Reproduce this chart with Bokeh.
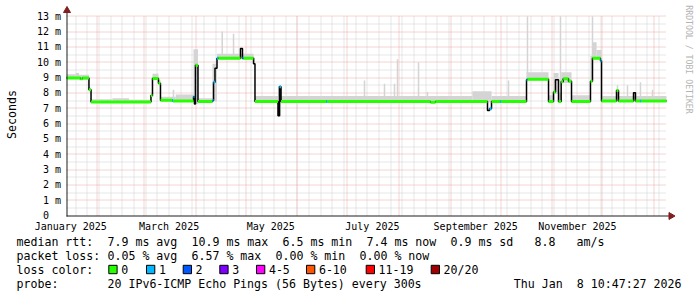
import math
import numpy as np
import pandas as pd
from bokeh.plotting import figure
from bokeh.models import Range1d, FixedTicker
from bokeh.layouts import column
from bokeh.embed import file_html
from bokeh.resources import INLINE
from bokeh.core.properties import value

# ---------------- data ----------------
t_start = "2025-01-13 10:47"
t_end = "2026-01-08 10:47"

# median rtt, as steps: start of each step, value (ms), loss count (-1 = no loss colour drawn)
med_start = ["2025-01-13 10:47", "2025-01-21 20:00", "2025-01-23 00:00", "2025-01-26 22:00",
             "2025-01-28 04:00", "2025-03-05 03:00", "2025-03-06 01:00", "2025-03-09 15:00",
             "2025-03-10 20:00", "2025-03-17 18:00", "2025-03-18 08:00", "2025-03-30 16:00",
             "2025-03-31 06:00", "2025-03-31 20:00", "2025-04-02 08:00", "2025-04-11 01:00",
             "2025-04-11 16:00", "2025-04-12 13:00", "2025-04-13 18:00", "2025-04-14 16:00",
             "2025-04-27 20:00", "2025-04-29 01:00", "2025-04-29 16:00", "2025-05-05 16:00",
             "2025-05-06 13:00", "2025-05-20 08:00", "2025-05-21 06:00", "2025-05-22 04:00",
             "2025-06-18 04:00", "2025-06-18 18:00", "2025-08-19 20:00", "2025-08-22 20:00",
             "2025-09-23 01:00", "2025-09-24 06:00", "2025-09-25 11:00", "2025-09-30 13:00",
             "2025-10-01 04:00", "2025-10-16 11:00", "2025-10-17 01:00", "2025-10-29 16:00",
             "2025-11-01 16:00", "2025-11-02 20:00", "2025-11-04 16:00", "2025-11-06 06:00",
             "2025-11-07 11:00", "2025-11-10 16:00", "2025-11-12 11:00", "2025-11-23 20:00",
             "2025-11-25 01:00", "2025-11-29 20:00", "2025-11-30 11:00", "2025-12-09 11:00",
             "2025-12-10 16:00", "2025-12-19 16:00", "2025-12-20 20:00", "2025-12-23 13:00",
             "2025-12-24 04:00"]
med_value = [8.97, 8.92, 8.97, 8.20,
             7.40, 7.82, 8.93, 8.62,
             7.52, 7.50, 7.47, 7.75,
             7.28, 9.80, 7.43, 7.50,
             8.70, 9.60, 10.26, 10.26,
             10.90, 10.26, 10.26, 9.90,
             7.43, 6.50, 8.40, 7.43,
             7.43, 7.43, 7.38, 7.43,
             6.85, 6.96, 7.43, 7.43,
             7.43, 8.85, 8.88, 7.43,
             8.05, 8.85, 7.43, 8.72,
             8.92, 8.76, 7.43, 8.75,
             10.26, 10.10, 7.47, 8.15,
             7.47, 8.00, 7.47, 7.47,
             7.47]
med_loss = [0, 0, 0, 0,
            0, 0, 0, 0,
            0, 1, 0, 1,
            -1, 0, 0, 1,
            1, -1, 1, 0,
            -1, 1, 0, -1,
            0, -1, 1, 0,
            1, 0, 0, 0,
            -1, 1, 0, 1,
            0, 1, 0, 0,
            0, -1, 0, 0,
            0, 0, 0, 0,
            0, 1, 0, 0,
            0, -1, 0, 1,
            0]

# smoke band (spread of the pings), as steps
smoke_start = ["2025-01-13 10:47", "2025-01-19 00:00", "2025-01-21 00:00", "2025-01-26 22:00",
               "2025-01-28 04:00", "2025-02-10 00:00", "2025-02-20 00:00", "2025-03-05 03:00",
               "2025-03-06 01:00", "2025-03-09 15:00", "2025-03-10 20:00", "2025-03-20 00:00",
               "2025-03-30 16:00", "2025-04-02 08:00", "2025-04-11 01:00", "2025-04-13 18:00",
               "2025-05-05 16:00", "2025-05-06 13:00", "2025-05-20 08:00", "2025-05-22 04:00",
               "2025-09-14 00:00", "2025-09-25 11:00", "2025-10-16 11:00", "2025-10-29 16:00",
               "2025-11-01 16:00", "2025-11-04 16:00", "2025-11-06 06:00", "2025-11-12 11:00",
               "2025-11-23 20:00", "2025-11-25 01:00", "2025-11-27 12:00", "2025-11-30 11:00"]
smoke_lo = [8.90, 8.90, 8.85, 8.15,
            7.35, 7.35, 7.35, 7.75,
            8.85, 8.55, 7.45, 7.42,
            7.25, 7.38, 7.45, 10.20,
            9.85, 7.38, 6.45, 7.38,
            7.38, 7.38, 8.82, 7.38,
            7.95, 7.38, 8.65, 7.38,
            8.70, 10.20, 10.20, 7.42]
smoke_hi = [9.22, 9.30, 9.18, 8.35,
            7.58, 7.65, 7.55, 8.00,
            9.25, 8.85, 7.75, 7.90,
            10.85, 7.65, 9.90, 10.55,
            10.30, 7.80, 8.45, 7.80,
            8.10, 7.80, 9.35, 7.85,
            9.30, 8.00, 9.35, 7.85,
            10.40, 11.30, 10.80, 7.80]

# single outlier spikes in the smoke
spike_date = ["2025-03-18 15:00", "2025-04-16 21:00", "2025-04-23 16:00", "2025-07-11 06:00",
              "2025-07-23 06:00", "2025-07-29 06:00", "2025-07-31 01:00", "2025-08-12 16:00",
              "2025-08-18 01:00", "2025-10-05 16:00", "2025-10-17 01:00", "2025-11-05 20:00",
              "2025-11-25 01:00", "2025-12-10 01:00", "2025-12-16 01:00", "2025-12-23 20:00",
              "2025-12-31 01:00"]
spike_lo = [7.45, 10.20, 10.20, 7.40,
            7.40, 7.40, 7.40, 7.40,
            7.40, 7.40, 8.85, 8.70,
            10.20, 7.45, 7.45, 7.45,
            7.45]
spike_hi = [8.20, 12.00, 11.85, 8.80,
            8.60, 8.60, 10.20, 10.00,
            8.05, 8.80, 13.00, 13.00,
            13.00, 8.50, 8.50, 8.70,
            8.20]

y_ticks = [0, 1, 2, 3, 4, 5, 6, 7, 8, 9, 10, 11, 12, 13]
y_tick_labels = ["0\u00a0\u00a0", "1 m", "2 m", "3 m", "4 m", "5 m", "6 m", "7 m",
                 "8 m", "9 m", "10 m", "11 m", "12 m", "13 m"]
x_label_dates = ["2025-01-16", "2025-03-16", "2025-05-16", "2025-07-16", "2025-09-16", "2025-11-16"]
x_label_text = ["January 2025", "March 2025", "May 2025", "July 2025", "September 2025", "November 2025"]

loss_labels = ["0", "1", "2", "3", "4-5", "6-10", "11-19", "20/20"]
loss_colors = ["#26ff00", "#00b8ff", "#0059ff", "#7e00ff", "#ff00ff", "#ff5500", "#ff0000", "#a10000"]

row1_items = ["median rtt:", "7.9 ms avg", "10.9 ms max", "6.5 ms min", "7.4 ms now", "0.9 ms sd", "8.8", "am/s"]
row1_cols = [0, 13, 25, 38, 50, 62, 74, 80]
row2_items = ["packet loss:", "0.05 % avg", "6.57 % max", "0.00 % min", "0.00 % now"]
row2_cols = [0, 13, 25, 37, 49]
row4_items = ["probe:", "20 IPv6-ICMP Echo Pings (56 Bytes) every 300s"]
row4_cols = [0, 13]
date_parts = ["Thu Jan", "8 10:47:27 2026"]

# ---------------- helpers / layout ----------------
EPOCH = pd.Timestamp("2025-01-01")


def days(s):
    return (pd.Timestamp(s) - EPOCH) / pd.Timedelta(days=1)


T0 = days(t_start)
T1 = days(t_end)
PPD = 600.0 / 360.0      # pixels per day
PPM = 15.33              # pixels per ms
W, H1, H2 = 697, 236, 61
GL, GB = 66, 215         # graph-area left edge and baseline (pixels)
FB = 220                 # bottom of the drawing frame (pixels)
Y_TOP = 200.0 / PPM      # top of the graph area


def px_x(px):
    return T0 + (px - GL) / PPD


def px_y(py):
    return (GB - py) / PPM


def snap_x(t):
    px = GL + (t - T0) * PPD
    return px_x(math.floor(px) + 0.5)


def snap_y(v):
    py = GB - v * PPM
    return px_y(math.floor(py) + 0.5)


MONO = "DejaVu Sans Mono"

p = figure(width=W, height=H1, x_range=Range1d(px_x(0), px_x(W)), y_range=Range1d(px_y(FB), px_y(0)),
           output_backend="svg", toolbar_location=None, y_axis_location=None,
           min_border_left=0, min_border_right=0, min_border_top=0, min_border_bottom=H1 - FB)
p.outline_line_color = None
p.xgrid.visible = False
p.ygrid.visible = False
p.background_fill_color = "white"
p.border_fill_color = "white"

x_ticks = [int(round(days(d))) for d in x_label_dates]
xax = p.xaxis[0]
xax.ticker = FixedTicker(ticks=x_ticks)
xax.major_label_overrides = dict(zip(x_ticks, x_label_text))
xax.axis_line_color = None
xax.major_tick_line_color = None
xax.minor_tick_line_color = None
xax.major_tick_out = 0
xax.major_tick_in = 0
xax.major_label_text_font = MONO
xax.major_label_text_font_size = "10px"
xax.major_label_text_color = "#000000"
xax.major_label_standoff = 0

# grid
weeks = [snap_x(days(d)) for d in pd.date_range("2025-01-19", t_end, freq="7D")]
months = [snap_x(days(d)) for d in pd.date_range("2025-02-01", "2026-01-01", freq="MS")]
minor_h = [snap_y(v) for v in np.arange(0.5, 13.0, 1.0)]
major_h = [snap_y(v) for v in np.arange(1.0, 13.5, 1.0)]
GRID_C, MGRID_C = "#cdcdcd", "#e8a8a8"
p.segment(x0=weeks, x1=weeks, y0=0, y1=Y_TOP, line_color=GRID_C, line_width=1, line_dash="1 1")
p.segment(x0=T0, x1=T1, y0=minor_h, y1=minor_h, line_color=GRID_C, line_width=1, line_dash="1 1")
p.segment(x0=months, x1=months, y0=0, y1=Y_TOP, line_color=MGRID_C, line_width=1, line_dash="1 1")
p.segment(x0=T0, x1=T1, y0=major_h, y1=major_h, line_color=MGRID_C, line_width=1, line_dash="1 1")

# smoke
s_left = [days(s) for s in smoke_start]
s_right = s_left[1:] + [T1]
p.quad(left=s_left, right=s_right, bottom=smoke_lo, top=smoke_hi,
       fill_color="#d4d4d4", line_color=None)
sp = [days(s) for s in spike_date]
p.quad(left=[v - 0.45 for v in sp], right=[v + 0.45 for v in sp], bottom=spike_lo, top=spike_hi,
       fill_color="#d4d4d4", line_color=None)

# median: black step line, then loss-coloured steps
m_left = [days(s) for s in med_start]
m_right = m_left[1:] + [T1]
xs, ys = [], []
for a, b, v in zip(m_left, m_right, med_value):
    xs += [a, b]
    ys += [v, v]
p.line(xs, ys, line_color="#000000", line_width=1.5)
cx0, cx1, cy, cc = [], [], [], []
for a, b, v, l in zip(m_left, m_right, med_value, med_loss):
    if l >= 0:
        cx0.append(a)
        cx1.append(b)
        cy.append(v)
        cc.append(loss_colors[l])
p.segment(x0=cx0, x1=cx1, y0=cy, y1=cy, line_color=cc, line_width=3, line_cap="butt")

# axes with arrows
p.segment(x0=[px_x(66)], x1=[px_x(669)], y0=[px_y(215.5)], y1=[px_y(215.5)], line_color="#1f1f1f", line_width=1)
p.segment(x0=[px_x(66.5)], x1=[px_x(66.5)], y0=[px_y(216)], y1=[px_y(11)], line_color="#1f1f1f", line_width=1)
p.scatter(x=[px_x(670.5)], y=[px_y(215.5)], marker="triangle", size=7, angle=-math.pi / 2,
          fill_color="#801f1f", line_color="#801f1f")
p.scatter(x=[px_x(66.5)], y=[px_y(10)], marker="triangle", size=7,
          fill_color="#801f1f", line_color="#801f1f")

# y tick labels and unit label
p.text(x=[px_x(60.5)] * len(y_ticks), y=y_ticks, text=y_tick_labels, text_align="right",
       text_baseline="middle", text_font=value(MONO), text_font_size="10px", text_color="#000000")
p.text(x=[px_x(11)], y=[px_y(114)], text=["Seconds"], angle=math.pi / 2,
       text_align="center", text_baseline="middle", text_font=value(MONO),
       text_font_size="11.6px", text_color="#000000")

# watermark
p.text(x=[px_x(688)], y=[px_y(59)], text=["RRDTOOL / TOBI OETIKER"], angle=-math.pi / 2,
       text_align="center", text_baseline="middle", text_font=value(MONO),
       text_font_size="8.2px", text_color="#b4b4b4")

# ---------------- legend panel ----------------
p2 = figure(width=W, height=H2, x_range=Range1d(0, W), y_range=Range1d(297, H1),
            output_backend="svg", toolbar_location=None, min_border=0,
            x_axis_location=None, y_axis_location=None)
p2.outline_line_color = None
p2.xgrid.visible = False
p2.ygrid.visible = False
p2.background_fill_color = "white"
p2.border_fill_color = "white"

CW = 7.0
LX = 16
ROWS = [241, 255, 269, 283]
tx, ty, tt = [], [], []
for items, cols, ry in [(row1_items, row1_cols, ROWS[0]), (row2_items, row2_cols, ROWS[1]),
                        (row4_items, row4_cols, ROWS[3])]:
    for it, cidx in zip(items, cols):
        tx.append(LX + cidx * CW)
        ty.append(ry)
        tt.append(it)
tx += [LX, 513.3, 513.3 + 9 * CW]
ty += [ROWS[2], ROWS[3], ROWS[3]]
tt += ["loss color:", date_parts[0], date_parts[1]]

box_x = [108.3, 146, 182.7, 219.3, 256, 306, 365.7, 430.7]
for bx, lab in zip(box_x, loss_labels):
    tx.append(bx + 12.4)
    ty.append(ROWS[2])
    tt.append(lab)

p2.text(x=tx, y=ty, text=tt, text_font=value(MONO), text_font_size="11.6px",
        text_baseline="middle", text_align="left", text_color="#000000")
p2.quad(left=box_x, right=[b + 8.3 for b in box_x], top=ROWS[2] - 4.2, bottom=ROWS[2] + 4.2,
        fill_color=loss_colors, line_color="#000000", line_width=1)

layout = column(p, p2, spacing=0)
open("out.html", "w").write(file_html(layout, INLINE))
